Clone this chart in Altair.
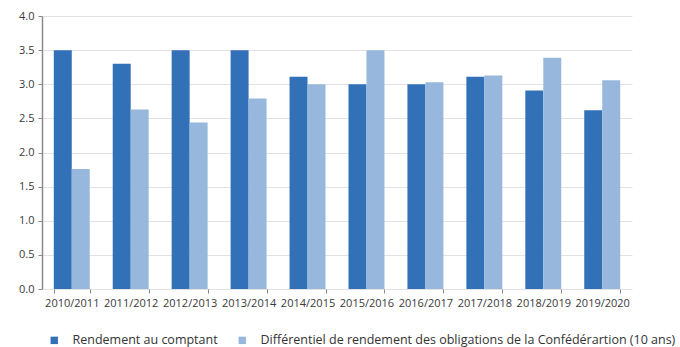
import altair as alt
import pandas as pd

# Fiscal years and the two yield series (percent)
years = ["2010/2011", "2011/2012", "2012/2013", "2013/2014", "2014/2015",
         "2015/2016", "2016/2017", "2017/2018", "2018/2019", "2019/2020"]
series_names = [
    "Rendement au comptant",
    "Différentiel de rendement des obligations de la Confédérartion (10 ans)",
]
rendement = [3.50, 3.30, 3.50, 3.50, 3.11, 3.00, 3.00, 3.11, 2.91, 2.62]
differentiel = [1.76, 2.63, 2.44, 2.79, 3.00, 3.50, 3.03, 3.13, 3.39, 3.06]
y_ticks = [0.0, 0.5, 1.0, 1.5, 2.0, 2.5, 3.0, 3.5, 4.0]
colors = ["#3270b8", "#97b8dc"]

rows = []
for i, yr in enumerate(years):
    rows.append({"annee": yr, "serie": series_names[0], "valeur": rendement[i]})
    rows.append({"annee": yr, "serie": series_names[1], "valeur": differentiel[i]})
df = pd.DataFrame(rows)

FONT = "Open Sans"

chart = (
    alt.Chart(df)
    .mark_bar()
    .encode(
        x=alt.X(
            "annee:N",
            sort=years,
            title=None,
            scale=alt.Scale(paddingInner=0.39, paddingOuter=0.2),
            axis=alt.Axis(
                labelAngle=0,
                labelFont=FONT,
                labelFontSize=11,
                labelColor="#3a3a3a",
                labelPadding=4,
                domain=False,
                tickBand="extent",
                tickSize=4,
                tickColor="#888888",
                grid=False,
            ),
        ),
        xOffset=alt.XOffset("serie:N", sort=series_names),
        y=alt.Y(
            "valeur:Q",
            title=None,
            scale=alt.Scale(domain=[0, 4], nice=False),
            axis=alt.Axis(
                values=y_ticks,
                format=".1f",
                labelFont=FONT,
                labelFontSize=11,
                labelColor="#3a3a3a",
                labelPadding=4,
                domain=True,
                domainColor="#8a8a8a",
                domainWidth=1.5,
                tickSize=4,
                tickColor="#8a8a8a",
                grid=True,
                gridColor="#e2e2e2",
                gridWidth=1,
            ),
        ),
        color=alt.Color(
            "serie:N",
            sort=series_names,
            scale=alt.Scale(domain=series_names, range=colors),
            legend=alt.Legend(
                title=None,
                orient="none",
                direction="horizontal",
                legendX=6,
                legendY=318,
                symbolType="square",
                symbolSize=55,
                symbolStrokeWidth=0,
                labelFont=FONT,
                labelFontSize=12.5,
                labelColor="#333333",
                labelLimit=1000,
                columnPadding=18,
                labelOffset=12,
            ),
        ),
    )
    .properties(
        width=590,
        height=273,
        autosize=alt.AutoSizeParams(type="none"),
        padding={"left": 42, "top": 16, "right": 48, "bottom": 58},
    )
    .configure(background="white")
    .configure_view(strokeWidth=0, strokeOpacity=0)
)

chart.save("out.html", embed_options={"renderer": "svg", "actions": False})
